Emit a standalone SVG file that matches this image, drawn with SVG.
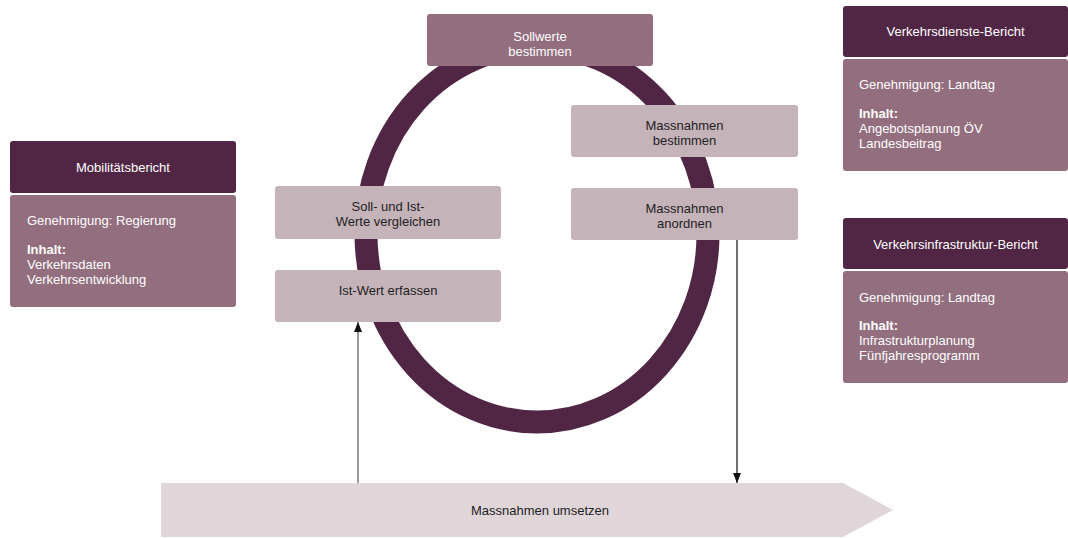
<svg xmlns="http://www.w3.org/2000/svg" width="1068" height="538" viewBox="0 0 1068 538">
  <defs>
    <style>
      text { font-family: "Liberation Sans", Arial, sans-serif; font-size: 13px; }
      .hdr { fill: #512645; }
      .mid { fill: #926e7e; }
      .lite { fill: #c5b3ba; }
      .wt { fill: #ffffff; }
      .dk { fill: #1e1e1e; }
      .c { text-anchor: middle; }
      .b { font-weight: bold; }
      .ring { fill: none; stroke: #512645; stroke-width: 23; }
      .link { fill: none; stroke-width: 1.2; }
    </style>
    <marker id="head" viewBox="0 0 10 8" refX="10" refY="4" markerWidth="10" markerHeight="8" markerUnits="userSpaceOnUse" orient="auto">
      <path d="M0,0 L10,4 L0,8 Z" fill="#111"/>
    </marker>
  </defs>

  <!-- control loop ring -->
  <ellipse class="ring" cx="537" cy="234" rx="171" ry="188"/>

  <!-- implementation bar -->
  <g id="umsetzen">
    <polygon points="161,483 843,483 893,510 843,537 161,537" fill="#e0d6da"/>
    <text class="dk c" x="540" y="515">Massnahmen umsetzen</text>
  </g>

  <!-- connectors -->
  <g id="connectors">
    <line class="link" x1="358" y1="483" x2="358" y2="322" stroke="#555" marker-end="url(#head)"/>
    <line class="link" x1="737" y1="240" x2="737" y2="483" stroke="#111" marker-end="url(#head)"/>
  </g>

  <!-- loop steps -->
  <g id="sollwerte">
    <rect class="mid" x="427" y="14" width="226" height="52" rx="3"/>
    <text class="wt c" x="540" y="41">Sollwerte</text>
    <text class="wt c" x="540" y="56">bestimmen</text>
  </g>
  <g id="massnahmen-bestimmen">
    <rect class="lite" x="571" y="105" width="227" height="52" rx="3"/>
    <text class="dk c" x="684.5" y="130">Massnahmen</text>
    <text class="dk c" x="684.5" y="145">bestimmen</text>
  </g>
  <g id="massnahmen-anordnen">
    <rect class="lite" x="571" y="188" width="227" height="52" rx="3"/>
    <text class="dk c" x="684.5" y="213">Massnahmen</text>
    <text class="dk c" x="684.5" y="228">anordnen</text>
  </g>
  <g id="vergleichen">
    <rect class="lite" x="275" y="186" width="226" height="53" rx="3"/>
    <text class="dk c" x="388" y="211">Soll- und Ist-</text>
    <text class="dk c" x="388" y="226">Werte vergleichen</text>
  </g>
  <g id="erfassen">
    <rect class="lite" x="275" y="270" width="226" height="52" rx="3"/>
    <text class="dk c" x="388" y="295">Ist-Wert erfassen</text>
  </g>

  <!-- reports -->
  <g id="mobilitaetsbericht">
    <rect class="hdr" x="10" y="141" width="226" height="52" rx="3"/>
    <text class="wt c" x="123" y="172">Mobilitätsbericht</text>
    <rect class="mid" x="10" y="195" width="226" height="112" rx="3"/>
    <text class="wt" x="27" y="225">Genehmigung: Regierung</text>
    <text class="wt b" x="27" y="254">Inhalt:</text>
    <text class="wt" x="27" y="269">Verkehrsdaten</text>
    <text class="wt" x="27" y="284">Verkehrsentwicklung</text>
  </g>
  <g id="verkehrsdienste">
    <rect class="hdr" x="843" y="6" width="225" height="51" rx="3"/>
    <text class="wt c" x="955.5" y="36">Verkehrsdienste-Bericht</text>
    <rect class="mid" x="843" y="59" width="225" height="112" rx="3"/>
    <text class="wt" x="859" y="89">Genehmigung: Landtag</text>
    <text class="wt b" x="859" y="118">Inhalt:</text>
    <text class="wt" x="859" y="133">Angebotsplanung ÖV</text>
    <text class="wt" x="859" y="148">Landesbeitrag</text>
  </g>
  <g id="verkehrsinfrastruktur">
    <rect class="hdr" x="843" y="218" width="225" height="51" rx="3"/>
    <text class="wt c" x="955.5" y="249">Verkehrsinfrastruktur-Bericht</text>
    <rect class="mid" x="843" y="271" width="225" height="112" rx="3"/>
    <text class="wt" x="859" y="302">Genehmigung: Landtag</text>
    <text class="wt b" x="859" y="330">Inhalt:</text>
    <text class="wt" x="859" y="345">Infrastrukturplanung</text>
    <text class="wt" x="859" y="360">Fünfjahresprogramm</text>
  </g>
</svg>
